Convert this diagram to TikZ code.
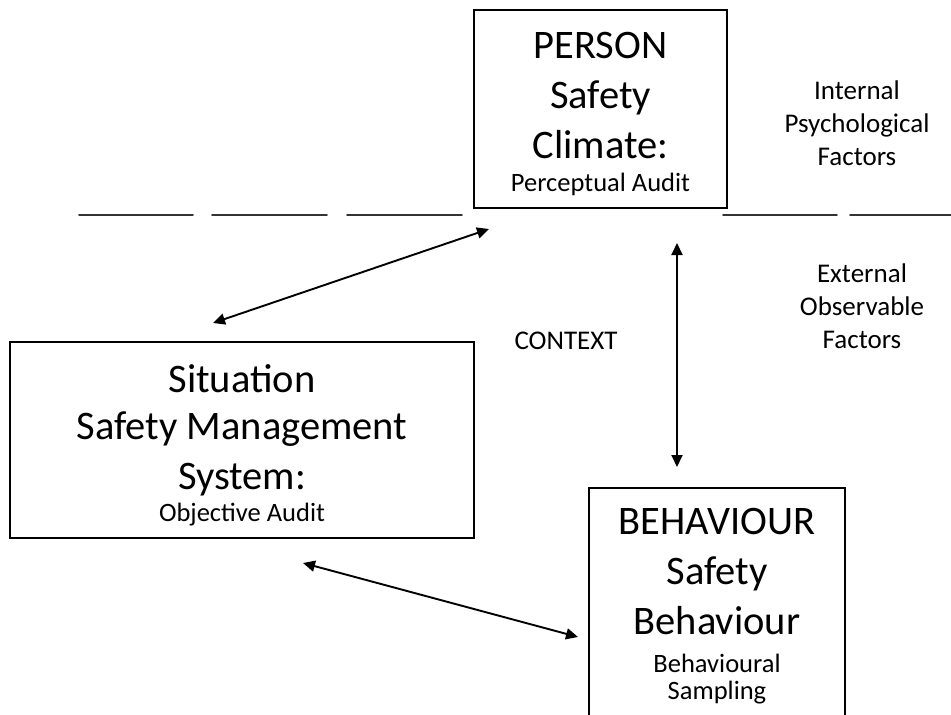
\documentclass[tikz,border=0pt]{standalone}
\usepackage{fontspec}
\setmainfont{Carlito}
\usetikzlibrary{arrows.meta}

\newcommand{\smalltext}{\fontsize{26.5}{30}\selectfont}

\begin{document}
\begin{tikzpicture}[
    x=1pt, y=-1pt,
    line cap=round,
    box/.style={draw=black, line width=1.8pt, inner sep=0pt},
    boxtext/.style={align=center, inner sep=0pt, font=\fontsize{40.5}{50}\selectfont},
    note/.style={align=center, font=\fontsize{27}{33}\selectfont},
    link/.style={line width=1.9pt,
                 {Triangle[length=12pt,width=11pt]}-{Triangle[length=12pt,width=11pt]}},
    rule/.style={draw=black!80, line width=1.8pt}
]
\useasboundingbox (0,0) rectangle (951,715);
\clip (0,0) rectangle (951,715);

\node[box, minimum width=253pt, minimum height=198pt] (person) at (600.5,109) {};
\node[boxtext] (person-text) at (600.5,114)
  {PERSON\\Safety\\Climate:\\[-17pt]{\smalltext Perceptual Audit}};

\node[box, minimum width=464pt, minimum height=196pt] (situation) at (242,440) {};
\node[boxtext] (situation-text) at (242,445)
  {Situation\\[-3pt]Safety Management\\System:\\[-18pt]{\smalltext Objective Audit}};

\node[box, minimum width=256pt, minimum height=232pt] (behaviour) at (717,604) {};
\node[boxtext] (behaviour-text) at (717,606)
  {BEHAVIOUR\\Safety\\Behaviour\\[-12pt]{\smalltext Behavioural}\\[-23pt]{\smalltext Sampling}};

\node[note] (internal) at (857,123) {Internal\\Psychological\\Factors};
\node[note] (external) at (862,306) {External\\Observable\\Factors};
\node[note] (context) at (566,341) {CONTEXT};

\foreach \a/\b in {79/193, 212/327, 347/462, 723/837, 850/951}
  \draw[rule] (\a,215) -- (\b,215);

\coordinate (sit-in) at (213,323);
\coordinate (per-in) at (489,229);
\coordinate (per-out) at (677,243);
\coordinate (beh-in) at (677,467);
\coordinate (sit-out) at (303,563);
\coordinate (beh-out) at (578,637);

\draw[link] (sit-in) -- (per-in);
\draw[link] (per-out) -- (beh-in);
\draw[link] (sit-out) -- (beh-out);

\end{tikzpicture}
\end{document}
